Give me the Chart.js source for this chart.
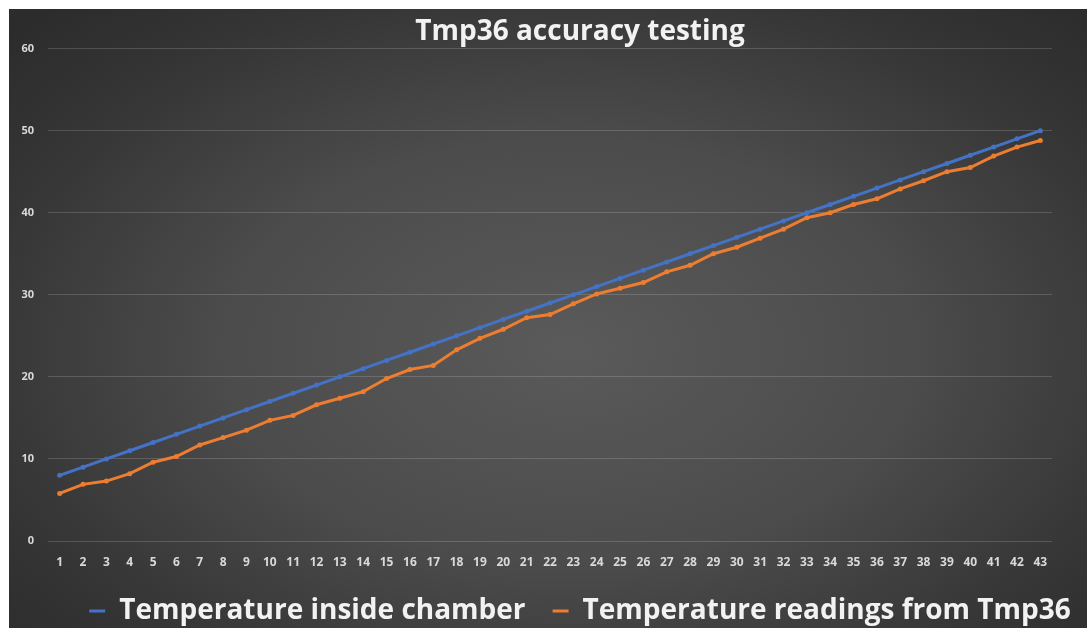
<!DOCTYPE html>
<html>
<head>
<meta charset="utf-8">
<script src="https://cdn.jsdelivr.net/npm/chart.js@4.4.0/dist/chart.umd.min.js"></script>
<style>
  html, body { margin: 0; padding: 0; background: #ffffff; overflow: hidden; }
  #wrap {
    position: absolute; left: 9px; top: 9px; width: 1078px; height: 619px; overflow: hidden;
    background: radial-gradient(ellipse 70% 75% at 52% 55%, #5a5a5a 0%, #4c4c4c 45%, #353535 80%, #2c2c2c 100%);
  }
  #grafica { position: absolute; left: 0; top: 0; }
</style>
</head>
<body>
<div id="wrap"><canvas id="grafica" width="1142" height="626"></canvas></div>
<script>
// categorias (numero de medida)
const categorias = [];
for (let i = 1; i <= 43; i++) categorias.push(String(i));

// temperatura dentro de la camara
const tempCamara = [8, 9, 10, 11, 12, 13, 14, 15, 16, 17, 18, 19, 20, 21, 22, 23, 24, 25, 26, 27, 28, 29,
  30, 31, 32, 33, 34, 35, 36, 37, 38, 39, 40, 41, 42, 43, 44, 45, 46, 47, 48, 49, 50];

// lecturas del sensor Tmp36
const tempTmp36 = [5.8, 6.9, 7.3, 8.2, 9.6, 10.3, 11.7, 12.6, 13.5, 14.7, 15.3, 16.6, 17.4, 18.2, 19.8, 20.9,
  21.4, 23.3, 24.7, 25.8, 27.2, 27.6, 28.9, 30.1, 30.8, 31.5, 32.8, 33.6, 35.0, 35.8, 36.9, 38.0, 39.4,
  40.0, 41.0, 41.7, 42.9, 43.9, 45.0, 45.5, 46.9, 48.0, 48.8];

const ticksY = [0, 10, 20, 30, 40, 50, 60];

const fuente = "'Open Sans', 'DejaVu Sans', sans-serif";
const colorTexto = '#d9d9d9';

new Chart(document.getElementById('grafica'), {
  type: 'line',
  data: {
    labels: categorias,
    datasets: [{
      label: 'Temperature inside chamber',
      data: tempCamara,
      borderColor: '#4472c4',
      backgroundColor: '#4472c4',
      borderWidth: 3,
      pointRadius: 2.5,
      pointBorderWidth: 0,
      tension: 0
    }, {
      label: 'Temperature readings from Tmp36',
      data: tempTmp36,
      borderColor: '#ed7d31',
      backgroundColor: '#ed7d31',
      borderWidth: 3,
      pointRadius: 2.5,
      pointBorderWidth: 0,
      tension: 0
    }]
  },
  options: {
    responsive: false,
    animation: false,
    layout: { padding: 0 },
    plugins: {
      title: {
        display: true,
        text: 'Tmp36 accuracy testing',
        color: '#f2f2f2',
        font: { family: fuente, size: 28, weight: 'bold' },
        padding: { top: 6, bottom: 0 }
      },
      legend: {
        position: 'bottom',
        labels: {
          color: '#f2f2f2',
          font: { family: fuente, size: 28, weight: 'bold' },
          boxWidth: 16,
          boxHeight: 3,
          padding: 27,
          generateLabels: (chart) => {
            const items = Chart.defaults.plugins.legend.labels.generateLabels(chart);
            items.forEach(it => { it.lineWidth = 0; it.strokeStyle = it.fillStyle; });
            return items;
          }
        }
      },
      tooltip: { enabled: false }
    },
    scales: {
      x: {
        offset: true,
        grid: { display: false, drawTicks: false },
        border: { display: false },
        afterFit: (scale) => { scale.height = 29; },
        ticks: {
          color: colorTexto,
          font: { family: fuente, size: 12, weight: 'bold' },
          padding: 14,
          autoSkip: false,
          maxRotation: 0
        }
      },
      y: {
        min: 0,
        max: 60,
        afterFit: (scale) => { scale.width = 39; },
        afterBuildTicks: (scale) => { scale.ticks = ticksY.map(v => ({ value: v })); },
        grid: { color: 'rgba(255,255,255,0.16)', lineWidth: 1, drawTicks: false },
        border: { display: false },
        ticks: {
          color: colorTexto,
          font: { family: fuente, size: 11, weight: 'bold' },
          padding: 14
        }
      },
      // eje vacio a la derecha, solo para dejar el hueco del grafico original
      derecha: {
        position: 'right',
        display: true,
        grid: { display: false, drawTicks: false },
        border: { display: false },
        ticks: { display: false },
        afterFit: (scale) => { scale.width = 99; }
      }
    }
  }
});
</script>
</body>
</html>
